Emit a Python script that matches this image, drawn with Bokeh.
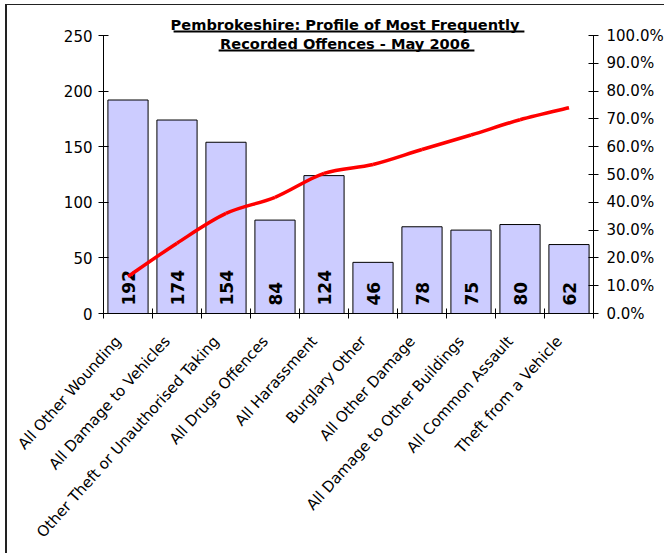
from bokeh.plotting import figure
from bokeh.models import Range1d, LinearAxis, FixedTicker, NumeralTickFormatter
from bokeh.core.properties import value
from bokeh.embed import file_html
from bokeh.resources import INLINE
from math import pi

# ---- data ----
categories = [
    "All Other Wounding",
    "All Damage to Vehicles",
    "Other Theft or Unauthorised Taking",
    "All Drugs Offences",
    "All Harassment",
    "Burglary Other",
    "All Other Damage",
    "All Damage to Other Buildings",
    "All Common Assault",
    "Theft from a Vehicle",
]
counts = [192, 174, 154, 84, 124, 46, 78, 75, 80, 62]
cumulative_share = [0.133, 0.253, 0.360, 0.418, 0.504, 0.536, 0.590, 0.642, 0.697, 0.740]
count_ticks = [0, 50, 100, 150, 200, 250]
share_ticks = [0.0, 0.1, 0.2, 0.3, 0.4, 0.5, 0.6, 0.7, 0.8, 0.9, 1.0]
title_lines = ["Pembrokeshire: Profile of Most Frequently", "Recorded Offences - May 2006"]

FONT = "DejaVu Sans"
xs = list(range(1, len(categories) + 1))

p = figure(width=659, height=549, x_range=Range1d(0.5, len(categories) + 0.5),
           y_range=Range1d(0, 272.5), output_backend="svg", toolbar_location=None,
           min_border_left=96, min_border_right=73, min_border_top=5, min_border_bottom=241)
p.extra_y_ranges = {"pct": Range1d(0, 1.09)}
p.outline_line_color = None
p.xgrid.visible = False
p.ygrid.visible = False
p.background_fill_color = "white"
p.border_fill_color = "white"
p.styles = {"border-left": "2px solid #222", "border-top": "1px solid #222",
            "margin-left": "5px", "margin-top": "4px"}

# bars
p.vbar(x=xs, top=counts, width=0.82, fill_color="#CCCCFF", line_color="black", line_width=1)

# value labels
p.text(x=xs, y=[0] * len(xs), text=[str(c) for c in counts], angle=pi / 2,
       y_offset=-8, text_align="left", text_baseline="middle",
       text_font=value(FONT), text_font_style="bold", text_font_size="17px", text_color="black")

# smoothed cumulative line (Catmull-Rom -> cubic Bezier through the data points)
n = len(xs)
x0s, y0s, x1s, y1s, cx0, cy0, cx1, cy1 = [], [], [], [], [], [], [], []
for i in range(n - 1):
    im = max(i - 1, 0)
    ip2 = min(i + 2, n - 1)
    x0s.append(xs[i]); y0s.append(cumulative_share[i])
    x1s.append(xs[i + 1]); y1s.append(cumulative_share[i + 1])
    cx0.append(xs[i] + (xs[i + 1] - xs[im]) / 6)
    cy0.append(cumulative_share[i] + (cumulative_share[i + 1] - cumulative_share[im]) / 6)
    cx1.append(xs[i + 1] - (xs[ip2] - xs[i]) / 6)
    cy1.append(cumulative_share[i + 1] - (cumulative_share[ip2] - cumulative_share[i]) / 6)
p.bezier(x0=x0s, y0=y0s, x1=x1s, y1=y1s, cx0=cx0, cy0=cy0, cx1=cx1, cy1=cy1,
         line_color="#FF0000", line_width=3.5, y_range_name="pct")

# title (underlined)
title_x = 5.43
p.text(x=[title_x, title_x], y=[259.9, 242.8], text=title_lines, text_align="center",
       text_baseline="alphabetic", text_font=value(FONT), text_font_style="bold",
       text_font_size="14.6px", text_color="black")
p.segment(x0=[1.93, 2.85], y0=[253.6, 236.5], x1=[9.09, 8.07], y1=[253.6, 236.5],
          line_color="black", line_width=2)

# left axis
la = p.yaxis[0]
la.bounds = (0, 250)
la.ticker = FixedTicker(ticks=count_ticks)
la.minor_tick_line_color = None
la.major_tick_in = 5
la.major_tick_out = 5
la.major_label_standoff = 6
la.axis_line_color = "black"
la.major_tick_line_color = "black"
la.major_label_text_font = FONT
la.major_label_text_font_size = "15px"
la.major_label_text_color = "black"

# right axis
ra = LinearAxis(y_range_name="pct", bounds=(0, 1.0), ticker=FixedTicker(ticks=share_ticks),
                formatter=NumeralTickFormatter(format="0.0%"))
ra.minor_tick_line_color = None
ra.major_tick_in = 5
ra.major_tick_out = 5
ra.major_label_standoff = 8
ra.axis_line_color = "black"
ra.major_tick_line_color = "black"
ra.major_label_text_font = FONT
ra.major_label_text_font_size = "15px"
ra.major_label_text_color = "black"
p.add_layout(ra, "right")

# bottom axis (labels anchored slightly left of each category centre, as in the original)
label_pos = [x - 0.2 for x in xs]
ba = p.xaxis[0]
ba.ticker = FixedTicker(ticks=label_pos, minor_ticks=[x - 0.5 for x in xs] + [xs[-1] + 0.5])
ba.major_label_overrides = {lp: c for lp, c in zip(label_pos, categories)}
ba.major_label_orientation = 0.84
ba.major_tick_line_color = None
ba.major_tick_out = 8
ba.major_tick_in = 0
ba.major_label_standoff = 17
ba.minor_tick_line_color = "black"
ba.minor_tick_in = 5
ba.minor_tick_out = 5
ba.axis_line_color = "black"
ba.major_label_text_font = FONT
ba.major_label_text_font_size = "15px"
ba.major_label_text_color = "black"

open("out.html", "w").write(file_html(p, INLINE))
